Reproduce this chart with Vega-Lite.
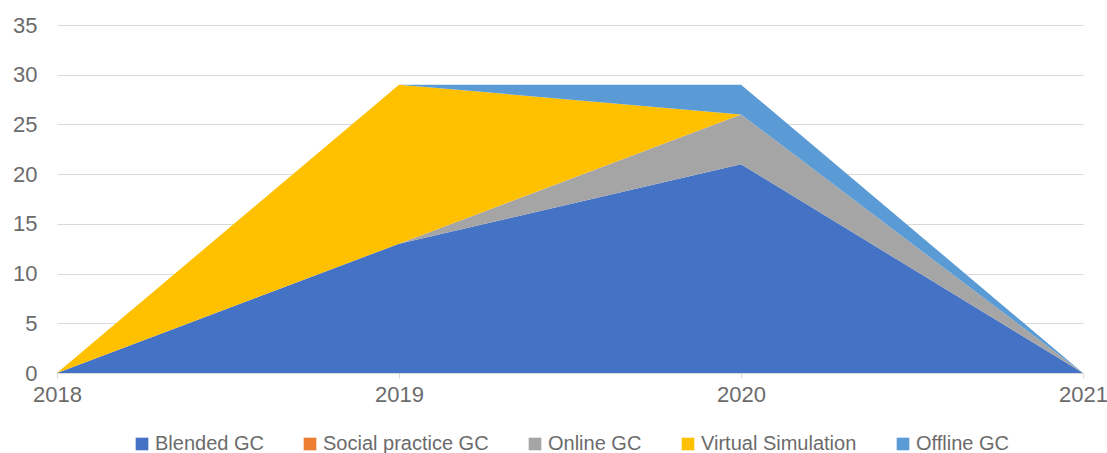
{
  "$schema": "https://vega.github.io/schema/vega-lite/v6.json",
  "width": 1026,
  "height": 348,
  "autosize": {"type": "none"},
  "padding": {"left": 57, "top": 25, "right": 24, "bottom": 80},
  "background": "white",
  "config": {
    "view": {"stroke": null},
    "font": "Liberation Sans",
    "axis": {"labelFont": "Liberation Sans", "labelColor": "#6b6b6b", "labelFontSize": 22},
    "legend": {"layout": {"bottom": {"anchor": "middle"}}}
  },
  "data": {
    "values": [
      {"year": 2018, "series": "Blended GC", "k": 1, "value": 0},
      {"year": 2019, "series": "Blended GC", "k": 1, "value": 13},
      {"year": 2020, "series": "Blended GC", "k": 1, "value": 21},
      {"year": 2021, "series": "Blended GC", "k": 1, "value": 0},
      {"year": 2018, "series": "Social practice GC", "k": 2, "value": 0},
      {"year": 2019, "series": "Social practice GC", "k": 2, "value": 0},
      {"year": 2020, "series": "Social practice GC", "k": 2, "value": 0},
      {"year": 2021, "series": "Social practice GC", "k": 2, "value": 0},
      {"year": 2018, "series": "Online GC", "k": 3, "value": 0},
      {"year": 2019, "series": "Online GC", "k": 3, "value": 0},
      {"year": 2020, "series": "Online GC", "k": 3, "value": 5},
      {"year": 2021, "series": "Online GC", "k": 3, "value": 0},
      {"year": 2018, "series": "Virtual Simulation", "k": 4, "value": 0},
      {"year": 2019, "series": "Virtual Simulation", "k": 4, "value": 16},
      {"year": 2020, "series": "Virtual Simulation", "k": 4, "value": 0},
      {"year": 2021, "series": "Virtual Simulation", "k": 4, "value": 0},
      {"year": 2018, "series": "Offline GC", "k": 5, "value": 0},
      {"year": 2019, "series": "Offline GC", "k": 5, "value": 0},
      {"year": 2020, "series": "Offline GC", "k": 5, "value": 3},
      {"year": 2021, "series": "Offline GC", "k": 5, "value": 0}
    ]
  },
  "mark": {"type": "area", "opacity": 1},
  "encoding": {
    "x": {
      "field": "year", "type": "quantitative",
      "scale": {"domain": [2018, 2021], "nice": false, "zero": false},
      "axis": {"values": [2018, 2019, 2020, 2021], "format": "d", "title": null, "grid": false,
        "domainColor": "#d9d9d9", "tickColor": "#d9d9d9", "tickSize": 5, "labelPadding": 6, "labelFlush": false}
    },
    "y": {
      "field": "value", "type": "quantitative", "stack": "zero",
      "scale": {"domain": [0, 35], "nice": false},
      "axis": {"values": [0, 5, 10, 15, 20, 25, 30, 35], "title": null, "domain": false, "ticks": false,
        "gridColor": "#d9d9d9", "labelPadding": 20}
    },
    "color": {
      "field": "series", "type": "nominal",
      "scale": {
        "domain": ["Blended GC", "Social practice GC", "Online GC", "Virtual Simulation", "Offline GC"],
        "range": ["#4472c4", "#ed7d31", "#a5a5a5", "#ffc000", "#5b9bd5"]
      },
      "legend": {
        "orient": "bottom", "direction": "horizontal", "title": null,
        "symbolType": "square", "symbolSize": 160, "symbolStrokeWidth": 0,
        "labelFont": "Liberation Sans", "labelFontSize": 20, "labelColor": "#6b6b6b", "labelLimit": 400,
        "columnPadding": 36, "offset": 29, "labelOffset": 3
      }
    },
    "order": {"field": "k", "type": "quantitative"}
  }
}
